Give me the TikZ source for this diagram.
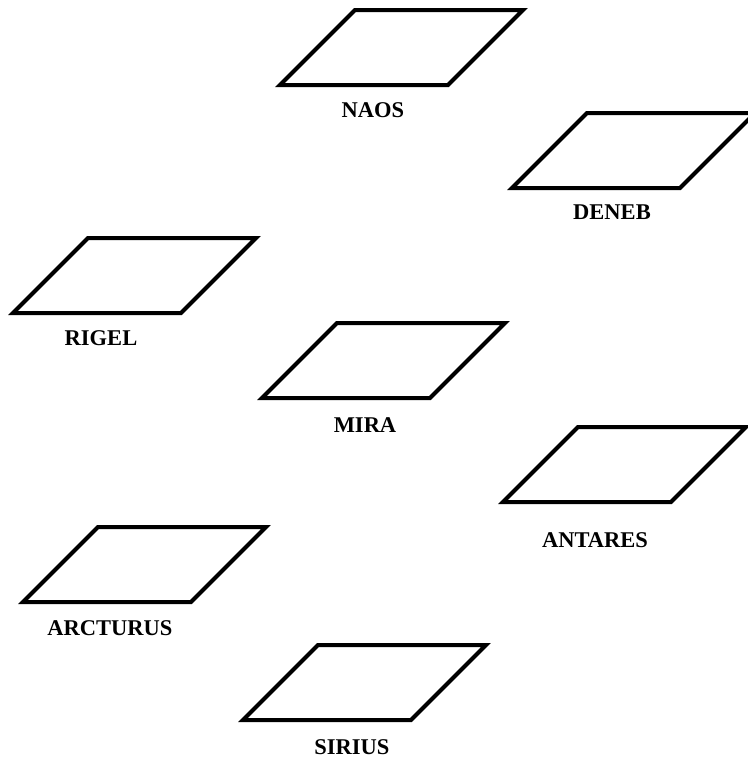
\documentclass[tikz,border=0pt]{standalone}
\usepackage{fontspec}
\setmainfont{Liberation Serif}
\begin{document}
\begin{tikzpicture}[x=1pt,y=-1pt,
  para/.style={draw=black,line width=4pt,line join=miter,miter limit=10},
  lbl/.style={font=\fontsize{22.5}{26}\selectfont\bfseries,inner sep=0pt,anchor=center}]
\useasboundingbox (0,0) rectangle (747,763);
\fill[white] (0,0) rectangle (747,763);
% bottom-left corners
\coordinate (naos)     at (280,85);
\coordinate (deneb)    at (512,188);
\coordinate (rigel)    at (13,313);
\coordinate (mira)     at (262,398);
\coordinate (antares)  at (503,502);
\coordinate (arcturus) at (23,602);
\coordinate (sirius)   at (243,720);
\foreach \c in {naos,deneb,rigel,mira,antares,arcturus,sirius}{
  \draw[para] (\c) -- ++(75,-75) -- ++(168,0) -- ++(-75,75) -- cycle;
}
\node[lbl] (tnaos)     at (373,110) {NAOS};
\node[lbl] (tdeneb)    at (612,212) {DENEB};
\node[lbl] (trigel)    at (101,338) {RIGEL};
\node[lbl] (tmira)     at (365,425) {MIRA};
\node[lbl] (tantares)  at (595,540) {ANTARES};
\node[lbl] (tarcturus) at (110,628) {ARCTURUS};
\node[lbl] (tsirius)   at (352,747) {SIRIUS};
\end{tikzpicture}
\end{document}
